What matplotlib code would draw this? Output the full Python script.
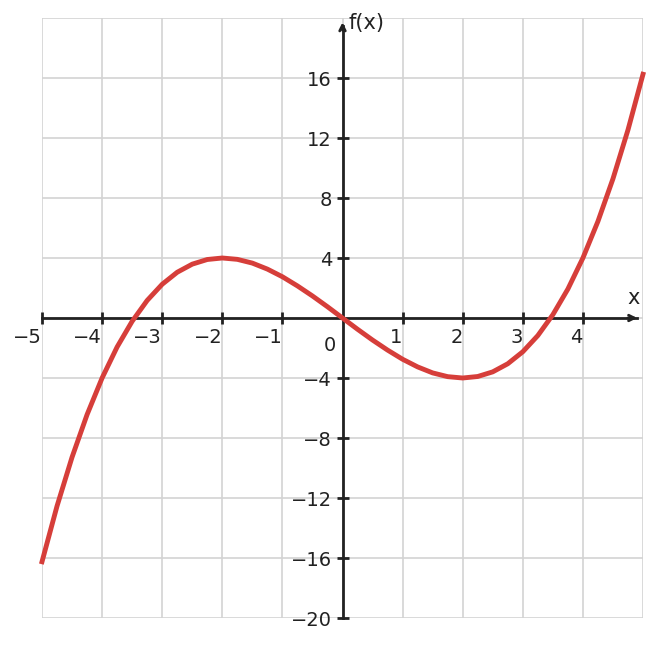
import matplotlib
matplotlib.use("Agg")
import matplotlib.pyplot as plt
import numpy as np

xs = [-5, -4.75, -4.5, -4.25, -4, -3.75, -3.5, -3.25, -3, -2.75, -2.5, -2.25, -2, -1.75, -1.5, -1.25, -1, -0.75, -0.5, -0.25, 0,
      0.25, 0.5, 0.75, 1, 1.25, 1.5, 1.75, 2, 2.25, 2.5, 2.75, 3, 3.25, 3.5, 3.75, 4, 4.25, 4.5, 4.75, 5]
ys = [-16.25, -12.54, -9.28, -6.44, -4, -1.93, -0.22, 1.17, 2.25, 3.05, 3.59, 3.90, 4, 3.91, 3.66, 3.26, 2.75, 2.14, 1.47, 0.75, 0,
      -0.75, -1.47, -2.14, -2.75, -3.26, -3.66, -3.91, -4, -3.90, -3.59, -3.05, -2.25, -1.17, 0.22, 1.93, 4, 6.44, 9.28, 12.54, 16.25]
xticks = [-5, -4, -3, -2, -1, 1, 2, 3, 4]
yticks = [-20, -16, -12, -8, -4, 4, 8, 12, 16]

fig = plt.figure(figsize=(6.61, 6.48), dpi=100)
ax = fig.add_axes([42/661, 30/648, 601/661, 600/648])
ax.set_xlim(-5, 5)
ax.set_ylim(-20, 20)
for gx in range(-5, 6):
    ax.axvline(gx, color="#d3d3d3", lw=1.2, zorder=0)
for gy in range(-20, 21, 4):
    ax.axhline(gy, color="#d3d3d3", lw=1.2, zorder=0)
for s in ["top", "right"]:
    ax.spines[s].set_visible(False)
ax.spines["left"].set_position(("data", 0))
ax.spines["bottom"].set_position(("data", 0))
ax.spines["left"].set_bounds(-20, 19.5)
ax.spines["bottom"].set_bounds(-5, 4.9)
for s in ["left", "bottom"]:
    ax.spines[s].set_color("#222222")
    ax.spines[s].set_linewidth(2)
ax.plot([4.9], [0], marker=">", color="#222222", markersize=8, clip_on=False, zorder=5, markerfacecolor="none", markeredgewidth=0)
ax.annotate("", xy=(4.95, 0), xytext=(4.7, 0), arrowprops=dict(arrowstyle="->", color="#222222", lw=2), annotation_clip=False)
ax.annotate("", xy=(0, 19.9), xytext=(0, 19.0), arrowprops=dict(arrowstyle="->", color="#222222", lw=2), annotation_clip=False)
ax.set_xticks(xticks)
ax.set_yticks(yticks)
ax.set_xticklabels([f"\u2212{-t}" if t < 0 else str(t) for t in xticks])
ax.set_yticklabels([f"\u2212{-t}" if t < 0 else str(t) for t in yticks])
ax.tick_params(direction="inout", length=8, width=2, color="#222222", labelsize=14, labelcolor="#222222")
for lab in ax.get_xticklabels():
    lab.set_horizontalalignment("right")
ax.text(-0.1, -1.2, "0", ha="right", va="top", fontsize=14, color="#222222")
ax.text(4.85, 0.7, "x", ha="center", va="bottom", fontsize=15, color="#222222")
ax.text(0.1, 19.0, "f(x)", ha="left", va="bottom", fontsize=15, color="#222222")
ax.plot(xs, ys, color="#d63e3a", lw=3.5, zorder=4, clip_on=False)
fig.savefig("out.png", dpi=100)
